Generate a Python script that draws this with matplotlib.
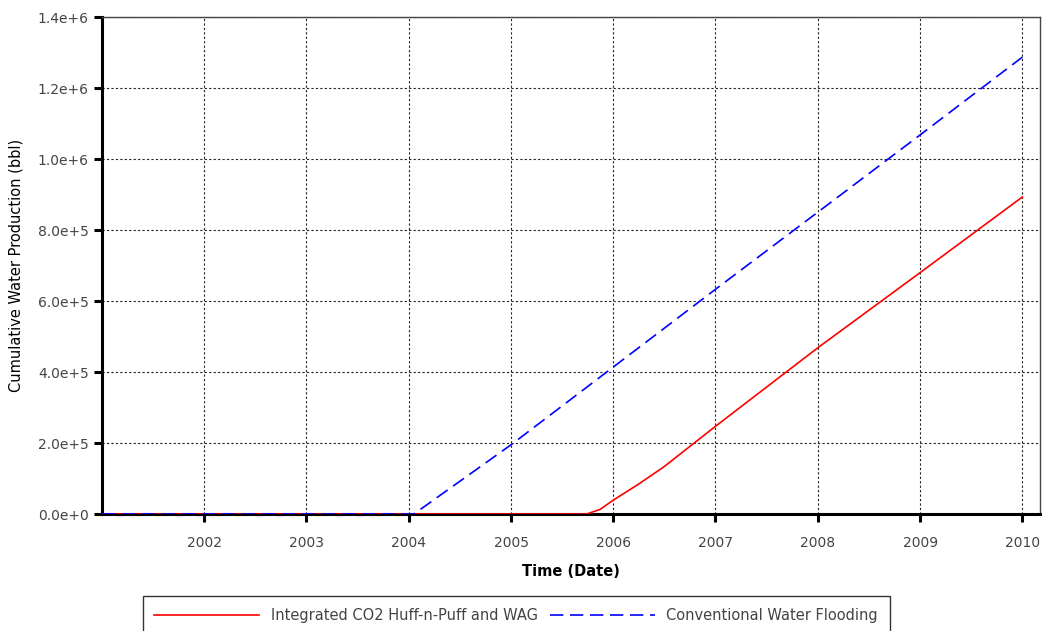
import matplotlib
matplotlib.use("Agg")
import matplotlib.pyplot as plt
import matplotlib.dates as mdates
import pandas as pd
from matplotlib.ticker import FuncFormatter, MultipleLocator

# Cumulative water production, Integrated CO2 Huff-n-Puff and WAG
wag_dates = ["2001-01-01", "2005-09-28", "2005-11-15", "2006-01-01", "2006-04-01",
             "2006-07-01", "2007-01-01", "2008-01-01", "2009-01-01", "2010-01-01"]
wag_values = [0, 0, 1.3e4, 3.9e4, 8.4e4, 1.33e5, 2.47e5, 4.68e5, 6.8e5, 8.93e5]

# Cumulative water production, Conventional Water Flooding
wf_dates = ["2001-01-01", "2004-01-20", "2005-01-01", "2006-01-01", "2007-01-01",
            "2008-01-01", "2009-01-01", "2010-01-01"]
wf_values = [0, 0, 1.95e5, 4.14e5, 6.33e5, 8.5e5, 1.068e6, 1.287e6]

series_labels = ["Integrated CO2 Huff-n-Puff and WAG", "Conventional Water Flooding"]
year_ticks = list(range(2002, 2011))

plt.rcParams["font.family"] = ["DejaVu Sans"]

fig = plt.figure(figsize=(10.47, 6.31), dpi=100)
ax = fig.add_axes([0.0974, 0.1854, 0.8959, 0.7876])

ax.plot(pd.to_datetime(wag_dates), wag_values, color="#ff0000", lw=1.2,
        label=series_labels[0], zorder=3)
ax.plot(pd.to_datetime(wf_dates), wf_values, color="#0000ff", lw=1.2,
        dashes=(8, 4), label=series_labels[1], zorder=4)

ax.set_xlim(pd.Timestamp("2001-01-01"), pd.Timestamp("2010-03-05"))
ax.set_ylim(0, 1.4e6)

ax.set_xticks([pd.Timestamp(f"{y}-01-01") for y in year_ticks])
ax.xaxis.set_major_formatter(mdates.DateFormatter("%Y"))
ax.yaxis.set_major_locator(MultipleLocator(2e5))


def sci_fmt(v, _):
    if v == 0:
        return "0.0e+0"
    exp = int(f"{v:e}".split("e")[1])
    return f"{v / 10**exp:.1f}e+{exp}"


ax.yaxis.set_major_formatter(FuncFormatter(sci_fmt))

ax.grid(True, color="#222222", linestyle=(0, (2, 2)), linewidth=0.8)
ax.set_axisbelow(True)

for side in ("left", "bottom"):
    ax.spines[side].set_linewidth(2.2)
    ax.spines[side].set_color("black")
for side in ("top", "right"):
    ax.spines[side].set_linewidth(1.0)
    ax.spines[side].set_color("#444444")

ax.tick_params(axis="both", direction="out", length=6, width=2.2,
               labelsize=10, labelcolor="#444444", color="black")
ax.tick_params(axis="x", pad=10)

ax.set_xlabel("Time (Date)", fontsize=10.5, fontweight="bold", labelpad=10)
ax.set_ylabel("Cumulative Water Production (bbl)", fontsize=10.5, labelpad=10)

leg = fig.legend(loc="upper center", bbox_to_anchor=(0.493, 0.067), ncol=2,
                 frameon=True, fancybox=False, edgecolor="black",
                 handlelength=7.2, fontsize=10.5, borderpad=0.8,
                 columnspacing=0.8)
leg.get_frame().set_linewidth(1.0)
for t in leg.get_texts():
    t.set_color("#444444")

fig.savefig("out.png", dpi=100)
